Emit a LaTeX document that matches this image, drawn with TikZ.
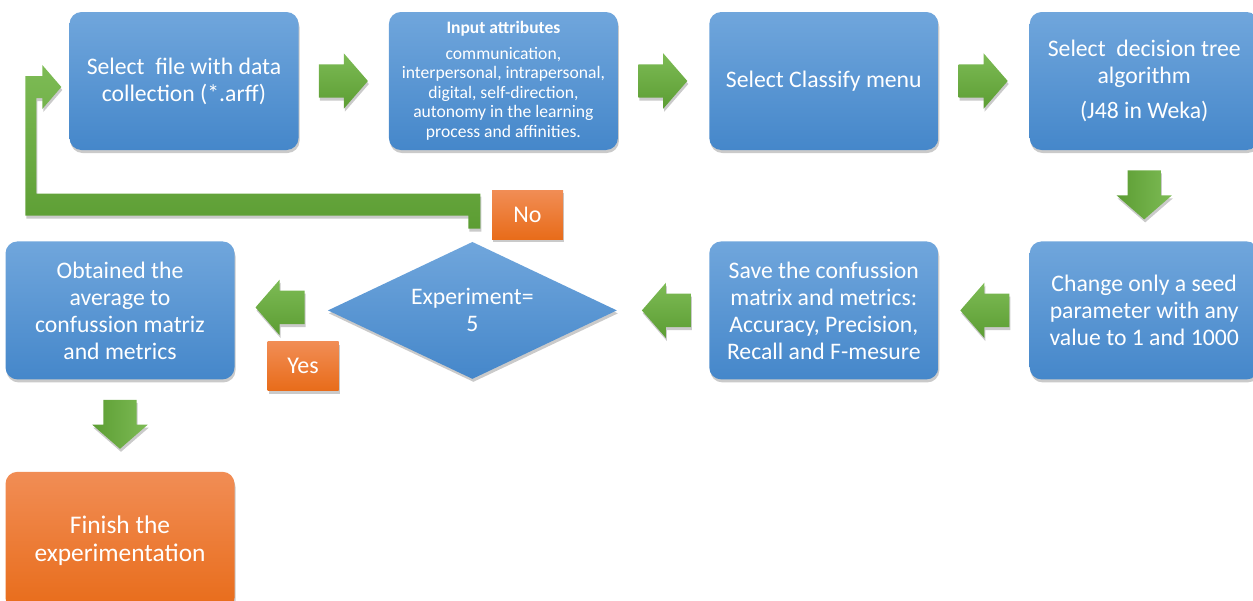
\documentclass[tikz,border=0pt]{standalone}
\usepackage{fontspec}
\setmainfont{Carlito}
\usepackage{tikz}
\usetikzlibrary{positioning,calc,shapes.geometric,shapes.arrows,shadows}

\definecolor{boxtop}{HTML}{70A6DC}
\definecolor{boxbot}{HTML}{4587CA}
\definecolor{greentop}{HTML}{7DBB55}
\definecolor{greenbot}{HTML}{5C9D33}
\definecolor{ortop}{HTML}{F18D55}
\definecolor{orbot}{HTML}{E86C1A}

\begin{document}
\begin{tikzpicture}[
   x=1pt,y=-1pt,
   every node/.style={font=\fontsize{23.7}{27}\selectfont},
   shade/.style={drop shadow={shadow xshift=1pt,shadow yshift=-3pt,opacity=.35,fill=black!60}},
   box/.style={rounded corners=12pt,minimum width=229pt,minimum height=138pt,
      align=center,text=white,inner sep=0pt,
      top color=boxtop,bottom color=boxbot,shade},
   finbox/.style={box,top color=ortop,bottom color=orbot,
      font=\fontsize{25.4}{27.5}\selectfont},
   test/.style={diamond,minimum width=289pt,minimum height=137pt,inner sep=0pt,
      aspect=2.1,align=center,text=white,top color=boxtop,bottom color=boxbot,shade},
   answer/.style={minimum width=71pt,minimum height=49pt,inner sep=0pt,text=white,
      top color=ortop,bottom color=orbot,shade,font=\fontsize{24}{27}\selectfont},
   go/.style={single arrow,anchor=tail,inner xsep=0pt,inner ysep=16.5pt,minimum height=49pt,
      single arrow head extend=11pt,single arrow tip angle=98,
      top color=greentop,bottom color=greenbot,shade},
   goleft/.style={go,shape border rotate=180},
   godown/.style={go,inner xsep=16.5pt,inner ysep=0pt,shape border rotate=270,
      left color=greenbot,right color=greentop},
   loopback/.style={top color=greentop,bottom color=greenbot,shade}]

\useasboundingbox (0,0) rectangle (1253,600);

% first row
\node[box] (sel) at (184,81) {Select\ \ file with data\\collection (*.arff)};
\node[box,right=90pt of sel,font=\fontsize{17.6}{19.5}\selectfont] (attr)
   {{\fontsize{17.5}{19.5}\selectfont\bfseries Input attributes}\\[6pt]
   communication,\\interpersonal, intrapersonal,\\digital, self-direction,\\autonomy in the learning\\process and affinities.};
\node[box,right=91pt of attr] (cls) {Select Classify menu};
\node[box,right=91pt of cls] (algo) {Select\ \ decision tree\\algorithm\\[8pt](J48 in Weka)};

% second row
\node[box,below=91pt of algo] (seed) {Change only a seed\\parameter with any\\value to 1 and 1000};
\node[box,left=91pt of seed] (save) {Save the confussion\\matrix and metrics:\\Accuracy, Precision,\\Recall and F-mesure};
\node[test,left=92pt of save] (dia) {Experiment=\\5};
\node[box,left=93pt of dia] (avg) {Obtained the\\average to\\confussion matriz\\and metrics};
\node[finbox,below=92pt of avg] (fin) {Finish the\\experimentation};

\node[answer] (no) at (527.5,214.5) {No};
\node[answer] (yes) at (303,366) {Yes};

% block arrows
\node[go] (a1) at ($(sel.east)+(20,0)$) {};
\node[go] (a2) at ($(attr.east)+(20,0)$) {};
\node[go] (a3) at ($(cls.east)+(20,0)$) {};
\node[godown] (a4) at ($(algo.south)+(0,20)$) {};
\node[goleft] (a5) at ($(seed.west)+(-20,0)$) {};
\node[goleft] (a6) at ($(save.west)+(-18,0)$) {};
\node[goleft] (a7) at ($(dia.west)+(-23,-3)$) {};
\node[godown] (a8) at ($(avg.south)+(0,20)$) {};

% loop back from No to the first box
\coordinate (lt) at ($(sel.west)+(-8,6)$);
\coordinate (ll) at ($(lt)+(-36,0)$);
\coordinate (lv) at ($(lt)+(-25,0)$);
\coordinate (ls) at ($(dia.north)+(8,-13)$);
\coordinate (lb) at ($(ls)+(0,-13)$);
\coordinate (lu) at ($(ls)+(0,-35)$);
\path[loopback] (lt) -- ++(-19,-22) -- ++(0,11) -- ++(-17,0) -- (ll |- lb)
   -- ($(lb)+(-12,0)$) -- ($(ls)+(-12,0)$) -- (ls) -- (lu) -- (lv |- lu)
   -- ($(lt)+(-25,11)$) -- ++(6,0) -- ++(0,11) -- cycle;
\end{tikzpicture}
\end{document}
